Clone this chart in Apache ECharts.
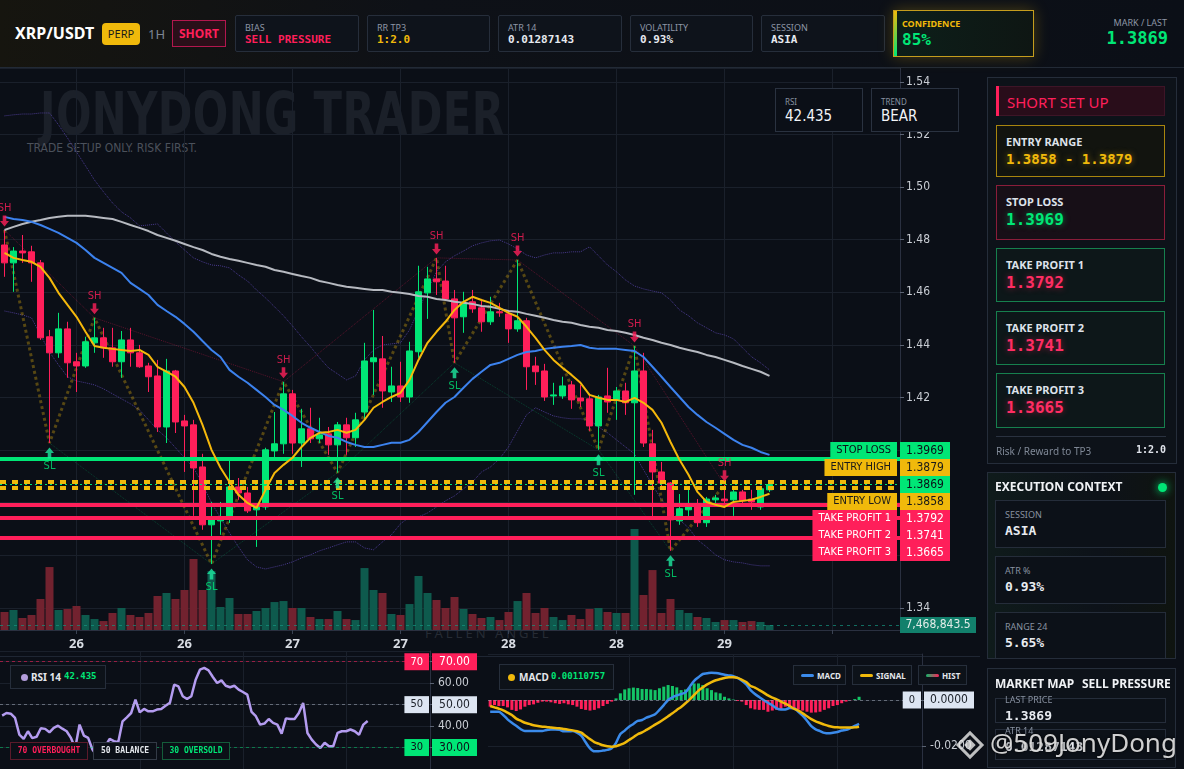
<!DOCTYPE html>
<html><head><meta charset="utf-8">
<script src="https://cdn.jsdelivr.net/npm/echarts@6/dist/echarts.min.js"></script>
<style>
html,body{margin:0;padding:0;width:1184px;height:769px;overflow:hidden;background:#0b0f17;font-family:'Noto Sans','Open Sans',sans-serif;}
.a{position:absolute;box-sizing:border-box;}
#chart{position:absolute;left:0;top:0;width:1184px;height:769px;z-index:2;}
.under{z-index:1;}
.over{z-index:3;}
.mono{font-family:'DejaVu Sans Mono','Liberation Mono',monospace;}
.narrow{font-family:'Liberation Sans Narrow','DejaVu Sans Condensed',Roboto,sans-serif;}
#header{position:absolute;left:0;top:0;width:1184px;height:68px;z-index:3;background:linear-gradient(90deg,#16150f 0%,#0e1117 35%,#0b0f17 100%);border-bottom:1px solid #222a36;box-sizing:border-box;}
.card{position:absolute;top:15px;height:37px;box-sizing:border-box;border:1px solid #262e3b;background:#0e131b;border-radius:2px;}
.card .l{position:absolute;left:9px;top:5px;font-size:9px;color:#8d96a6;}
.card .v{position:absolute;left:9px;top:17px;font-weight:bold;font-size:11px;font-family:'DejaVu Sans Mono',monospace;}
.panel{position:absolute;box-sizing:border-box;border:1px solid #252d3a;background:#0d1219;z-index:3;}
.scard{position:absolute;left:996px;width:169px;box-sizing:border-box;z-index:4;}
.scard .l{position:absolute;left:9px;top:8px;font-weight:bold;font-size:11px;color:#dde2ea;}
.scard .v{position:absolute;left:9px;top:24px;font-weight:bold;font-size:16px;font-family:'DejaVu Sans Mono',monospace;}
.ecard{position:absolute;left:995px;width:171px;box-sizing:border-box;border:1px solid #252d3a;background:#0c1118;z-index:4;}
.ecard .l{position:absolute;left:9px;top:7px;font-size:9px;color:#8891a0;}
.ecard .v{position:absolute;left:9px;top:22px;font-weight:bold;font-size:13px;color:#e8ebf0;font-family:'DejaVu Sans Mono',monospace;}
.leg{position:absolute;box-sizing:border-box;border:1px solid #262e3b;background:#0d1219;z-index:3;font-size:10px;color:#e4e7ec;font-weight:bold;white-space:nowrap;}
.tagb{position:absolute;box-sizing:border-box;height:18px;line-height:16px;font-size:8px;font-weight:bold;padding:0 5px;z-index:3;font-family:'DejaVu Sans Mono',monospace;background:#0b0f17;white-space:nowrap;text-align:center;}
</style></head><body>

<!-- watermarks under the chart canvas -->
<div class="a under narrow" style="left:40px;top:80px;font-size:58px;font-weight:bold;color:#1b2029;letter-spacing:0.5px;white-space:nowrap;transform:scaleX(0.8);transform-origin:0 0;">JONYDONG TRADER</div>
<div class="a under narrow" style="left:27px;top:141px;font-size:12px;color:#4b515b;white-space:nowrap;">TRADE SETUP ONLY. RISK FIRST.</div>
<div class="a under" style="left:425px;top:624px;font-size:13px;color:#262b34;letter-spacing:3px;white-space:nowrap;">FALLEN ANGEL</div>
<div class="a under" style="left:0;top:656px;width:980px;height:1px;background:#1f2633;"></div>

<div id="chart"></div>

<!-- header -->
<div id="header">
  <div class="a" style="left:15px;top:22px;font-size:16px;font-weight:bold;color:#fff;">XRP/USDT</div>
  <div class="a" style="left:102px;top:23px;width:38px;height:22px;line-height:22px;text-align:center;font-size:11px;background:#f0b90b;color:#1a1a1a;border-radius:4px;">PERP</div>
  <div class="a" style="left:148px;top:23px;line-height:22px;font-size:13px;color:#7d8694;">1H</div>
  <div class="a" style="left:172px;top:20px;width:54px;height:27px;line-height:25px;text-align:center;font-size:12px;font-weight:bold;color:#ff1f5a;border:1px solid #b3174e;background:#2a0f19;">SHORT</div>
  <div class="card" style="left:235px;width:124px;"><div class="l">BIAS</div><div class="v" style="color:#ff1f5a;">SELL PRESSURE</div></div>
  <div class="card" style="left:367px;width:123px;"><div class="l">RR TP3</div><div class="v" style="color:#f0b90b;">1:2.0</div></div>
  <div class="card" style="left:498px;width:124px;"><div class="l">ATR 14</div><div class="v" style="color:#e6e9ef;">0.01287143</div></div>
  <div class="card" style="left:630px;width:123px;"><div class="l">VOLATILITY</div><div class="v" style="color:#e6e9ef;">0.93%</div></div>
  <div class="card" style="left:761px;width:124px;"><div class="l">SESSION</div><div class="v" style="color:#e6e9ef;">ASIA</div></div>
  <div class="a" style="left:893px;top:10px;width:141px;height:47px;border:1px solid #c59d1d;background:linear-gradient(90deg,#0d1f1a,#0e1613);box-shadow:0 0 14px rgba(240,185,11,0.28);">
    <div class="a" style="left:0;top:0;width:3px;height:45px;background:linear-gradient(180deg,#f0b90b,#00e676);"></div>
    <div class="a" style="left:8px;top:6px;font-size:9px;font-weight:bold;color:#f0b90b;">CONFIDENCE</div>
    <div class="a mono" style="left:8px;top:19px;font-size:16px;font-weight:bold;color:#00e676;">85%</div>
  </div>
  <div class="a" style="right:17px;top:16px;font-size:9px;color:#8d96a6;text-align:right;">MARK / LAST</div>
  <div class="a mono" style="right:16px;top:28px;font-size:17px;font-weight:bold;color:#00e676;text-align:right;">1.3869</div>
</div>

<!-- RSI / TREND boxes -->
<div class="a over" style="left:775px;top:88px;width:88px;height:44px;border:1px solid #2a3240;background:#0b0f17;">
  <div class="a" style="left:9px;top:7px;font-size:8px;color:#8891a0;">RSI</div>
  <div class="a narrow" style="left:9px;top:18px;font-size:15px;color:#f2f4f7;">42.435</div>
</div>
<div class="a over" style="left:871px;top:88px;width:88px;height:44px;border:1px solid #2a3240;background:#0b0f17;">
  <div class="a" style="left:9px;top:7px;font-size:8px;color:#8891a0;">TREND</div>
  <div class="a narrow" style="left:9px;top:18px;font-size:15px;color:#f2f4f7;">BEAR</div>
</div>

<!-- right panel: setup -->
<div class="panel" style="left:987px;top:77px;width:190px;height:387px;"></div>
<div class="a" style="left:996px;top:86px;width:169px;height:30px;background:#290d1a;border:1px solid #3e1527;z-index:4;">
  <div class="a" style="left:-1px;top:-1px;width:3px;height:30px;background:#ff1f5a;"></div>
  <div class="a" style="left:10px;top:5px;font-size:15px;color:#ff1f5a;">SHORT SET UP</div>
</div>
<div class="scard" style="top:125px;height:52px;border:1px solid #a8850e;background:#12140f;"><div class="l">ENTRY RANGE</div><div class="v" style="font-size:14px;top:25px;color:#f0b90b;text-shadow:0 0 6px rgba(240,185,11,0.5);">1.3858 - 1.3879</div></div>
<div class="scard" style="top:185px;height:55px;border:1px solid #8a1d3a;background:#170f17;"><div class="l">STOP LOSS</div><div class="v" style="color:#00e676;text-shadow:0 0 6px rgba(0,230,118,0.5);">1.3969</div></div>
<div class="scard" style="top:248px;height:54px;border:1px solid #16804e;background:#0d1719;"><div class="l">TAKE PROFIT 1</div><div class="v" style="color:#ff2d63;text-shadow:0 0 6px rgba(255,31,90,0.5);">1.3792</div></div>
<div class="scard" style="top:311px;height:54px;border:1px solid #16804e;background:#0d1719;"><div class="l">TAKE PROFIT 2</div><div class="v" style="color:#ff2d63;text-shadow:0 0 6px rgba(255,31,90,0.5);">1.3741</div></div>
<div class="scard" style="top:373px;height:55px;border:1px solid #16804e;background:#0d1719;"><div class="l">TAKE PROFIT 3</div><div class="v" style="color:#ff2d63;text-shadow:0 0 6px rgba(255,31,90,0.5);">1.3665</div></div>
<div class="a" style="left:996px;top:436px;width:170px;height:1px;background:#2a3240;z-index:4;"></div>
<div class="a" style="left:996px;top:444px;font-size:10px;color:#7f8896;z-index:4;">Risk / Reward to TP3</div>
<div class="a mono" style="left:1120px;top:444px;width:46px;text-align:right;font-size:10px;font-weight:bold;color:#dfe3ea;z-index:4;">1:2.0</div>

<!-- execution context -->
<div class="panel" style="left:987px;top:472px;width:189px;height:187px;background:linear-gradient(90deg,#0f1b1b,#0d1219 60%,#0f1410);"></div>
<div class="a" style="left:995px;top:478px;font-size:12px;font-weight:bold;color:#f0f2f5;z-index:4;">EXECUTION CONTEXT</div>
<div class="a" style="left:1158px;top:483px;width:9px;height:9px;border-radius:50%;background:#00e676;box-shadow:0 0 8px #00e676;z-index:4;"></div>
<div class="ecard" style="top:500px;height:48px;"><div class="l">SESSION</div><div class="v">ASIA</div></div>
<div class="ecard" style="top:556px;height:48px;"><div class="l">ATR %</div><div class="v">0.93%</div></div>
<div class="ecard" style="top:612px;height:47px;"><div class="l">RANGE 24</div><div class="v">5.65%</div></div>

<!-- market map -->
<div class="panel" style="left:987px;top:668px;width:189px;height:100px;"></div>
<div class="a" style="left:995px;top:675px;font-size:12px;font-weight:bold;color:#f0f2f5;z-index:4;">MARKET MAP</div>
<div class="a" style="left:1082px;top:675px;font-size:12px;font-weight:bold;color:#f0f2f5;z-index:4;">SELL PRESSURE</div>
<div class="ecard" style="top:698px;height:25px;"><div class="l" style="top:-6px;">LAST PRICE</div><div class="v" style="top:9px;">1.3869</div></div>
<div class="ecard" style="top:729px;height:31px;"><div class="l" style="top:-6px;">ATR 14</div><div class="v" style="top:9px;">0.01287143</div></div>

<!-- RSI legends -->
<div class="leg" style="left:10px;top:665px;width:96px;height:24px;">
  <div class="a" style="left:10px;top:8px;width:7px;height:7px;border-radius:50%;background:#b39ddb;"></div>
  <div class="a" style="left:20px;top:4px;">RSI 14</div>
  <div class="a mono" style="left:53px;top:5px;color:#00e676;font-size:9px;">42.435</div>
</div>
<div class="tagb" style="left:10px;top:742px;width:78px;border:1px solid #5a1a2a;color:#ff1f5a;">70 OVERBOUGHT</div>
<div class="tagb" style="left:93px;top:742px;width:64px;border:1px solid #333a46;color:#e4e7ec;">50 BALANCE</div>
<div class="tagb" style="left:162px;top:742px;width:68px;border:1px solid #145c3a;color:#00e676;">30 OVERSOLD</div>

<!-- MACD legends -->
<div class="leg" style="left:499px;top:664px;width:115px;height:26px;">
  <div class="a" style="left:8px;top:9px;width:7px;height:7px;border-radius:50%;background:#f0b90b;"></div>
  <div class="a" style="left:19px;top:5px;">MACD</div>
  <div class="a mono" style="left:51px;top:6px;color:#00e676;font-size:9px;">0.00110757</div>
</div>
<div class="leg" style="left:793px;top:665px;width:53px;height:20px;font-size:8px;">
  <div class="a" style="left:7px;top:8px;width:13px;height:3px;border-radius:2px;background:#3b8beb;"></div>
  <div class="a" style="left:23px;top:4px;">MACD</div>
</div>
<div class="leg" style="left:852px;top:665px;width:60px;height:20px;font-size:8px;">
  <div class="a" style="left:7px;top:8px;width:13px;height:3px;border-radius:2px;background:#f0b90b;"></div>
  <div class="a" style="left:23px;top:4px;">SIGNAL</div>
</div>
<div class="leg" style="left:918px;top:665px;width:49px;height:20px;font-size:8px;">
  <div class="a" style="left:7px;top:8px;width:13px;height:3px;border-radius:2px;background:linear-gradient(90deg,#12b76a,#ff1f5a);"></div>
  <div class="a" style="left:23px;top:4px;">HIST</div>
</div>

<!-- signature watermark -->
<div class="a" style="left:960px;top:735px;width:20px;height:20px;border:3px solid rgba(235,235,235,0.8);transform:rotate(45deg);z-index:5;"></div>
<div class="a" style="left:966px;top:741px;width:8px;height:8px;background:rgba(235,235,235,0.8);transform:rotate(45deg);z-index:5;"></div>
<div class="a" style="left:990px;top:724px;font-size:26px;color:rgba(236,236,236,0.88);text-shadow:0 0 3px #000;z-index:5;white-space:nowrap;">@509JonyDong</div>

<script>
// ---------------- DATA ----------------
const firstCandleTime = { day: 25, hour: 16 };
const slotCount = 100; // 86 hourly candles + empty right margin
const categories = [];
for (let k = 0; k < slotCount; k++) {
  const h = firstCandleTime.hour + k;
  categories.push((firstCandleTime.day + Math.floor(h / 24)) + ' ' + String(h % 24).padStart(2, '0') + ':00');
}

// [open, close, low, high]
const candles = [
[1.4780,1.4712,1.4659,1.4837],[1.4712,1.4757,1.4602,1.4772],[1.4757,1.4750,1.4712,1.4818],[1.4754,1.4712,1.4640,1.4777],
[1.4712,1.4427,1.4419,1.4723],[1.4431,1.4370,1.4027,1.4457],[1.4370,1.4461,1.4351,1.4522],[1.4461,1.4332,1.4275,1.4488],
[1.4336,1.4320,1.4221,1.4370],[1.4320,1.4412,1.4313,1.4431],[1.4408,1.4427,1.4370,1.4503],[1.4427,1.4389,1.4351,1.4465],
[1.4389,1.4336,1.4317,1.4465],[1.4336,1.4419,1.4275,1.4453],[1.4419,1.4370,1.4317,1.4465],[1.4370,1.4317,1.4313,1.4400],
[1.4320,1.4279,1.4221,1.4332],[1.4282,1.4088,1.4069,1.4343],[1.4088,1.4301,1.4027,1.4347],[1.4301,1.4107,1.4065,1.4305],
[1.4111,1.4092,1.3917,1.4134],[1.4096,1.3932,1.3750,1.4115],[1.3936,1.3716,1.3697,1.3986],[1.3716,1.3735,1.3567,1.3803],
[1.3731,1.3742,1.3678,1.3803],[1.3739,1.3860,1.3723,1.3959],[1.3860,1.3837,1.3811,1.3894],[1.3837,1.3769,1.3761,1.3860],
[1.3773,1.3792,1.3632,1.3795],[1.3784,1.4001,1.3773,1.4009],[1.3997,1.4024,1.3974,1.4145],[1.4024,1.4214,1.3986,1.4260],
[1.4214,1.4027,1.3986,1.4229],[1.4027,1.4081,1.3936,1.4157],[1.4081,1.4043,1.4027,1.4161],[1.4043,1.4058,1.4027,1.4123],
[1.4062,1.4020,1.3982,1.4088],[1.4020,1.4096,1.3914,1.4107],[1.4096,1.4047,1.3982,1.4123],[1.4047,1.4115,1.4012,1.4142],
[1.4145,1.4339,1.4115,1.4408],[1.4336,1.4351,1.4210,1.4533],[1.4347,1.4225,1.4161,1.4434],[1.4221,1.4244,1.4183,1.4317],
[1.4244,1.4202,1.4183,1.4336],[1.4202,1.4377,1.4180,1.4412],[1.4374,1.4602,1.4351,1.4701],[1.4598,1.4651,1.4499,1.4697],
[1.4651,1.4640,1.4590,1.4731],[1.4643,1.4575,1.4567,1.4701],[1.4575,1.4503,1.4332,1.4609],[1.4507,1.4560,1.4446,1.4602],
[1.4564,1.4537,1.4522,1.4609],[1.4541,1.4488,1.4450,1.4575],[1.4488,1.4526,1.4476,1.4583],[1.4526,1.4522,1.4507,1.4560],
[1.4518,1.4461,1.4408,1.4533],[1.4461,1.4492,1.4450,1.4723],[1.4492,1.4317,1.4229,1.4503],[1.4320,1.4298,1.4248,1.4355],
[1.4301,1.4202,1.4187,1.4328],[1.4206,1.4210,1.4172,1.4256],[1.4206,1.4244,1.4195,1.4279],[1.4248,1.4191,1.4157,1.4263],
[1.4198,1.4187,1.4164,1.4248],[1.4195,1.4092,1.4073,1.4210],[1.4092,1.4202,1.4001,1.4210],[1.4206,1.4183,1.4142,1.4313],
[1.4191,1.4225,1.4115,1.4240],[1.4225,1.4180,1.4134,1.4256],[1.4180,1.4301,1.3830,1.4396],[1.4301,1.4027,1.4012,1.4370],
[1.4024,1.3917,1.3739,1.4077],[1.3917,1.3875,1.3849,1.3955],[1.3875,1.3735,1.3617,1.3879],[1.3731,1.3777,1.3716,1.3833],
[1.3773,1.3796,1.3742,1.3860],[1.3796,1.3724,1.3708,1.3814],[1.3724,1.3814,1.3708,1.3822],[1.3811,1.3818,1.3792,1.3830],
[1.3814,1.3807,1.3792,1.3868],[1.3811,1.3841,1.3750,1.3864],[1.3841,1.3807,1.3792,1.3849],[1.3814,1.3803,1.3773,1.3849],
[1.3784,1.3853,1.3773,1.3864],[1.3849,1.3869,1.3841,1.3879]
];

// volume in millions
const volumeM = [
26.9,29.9,17.9,22.4,46.3,94.1,29.9,31.4,35.9,22.4,16.4,13.4,25.4,32.9,22.4,19.4,25.4,50.8,55.3,46.3,
59.8,106.1,59.8,88.1,34.4,47.8,23.9,23.9,28.4,32.9,41.8,43.3,32.9,32.9,19.4,16.4,16.4,28.4,16.4,14.9,
92.6,59.8,55.3,23.9,22.4,38.8,80.7,55.3,44.8,32.9,49.3,31.4,23.9,17.9,19.4,14.9,26.9,43.3,55.3,25.4,
32.9,19.4,14.9,22.4,16.4,31.4,32.9,26.9,25.4,25.4,150.9,52.3,89.6,25.4,46.3,29.9,25.4,19.4,17.9,12.0,
14.9,14.9,12.0,13.4,12.0,7.4688435
];

const emaFast = [
1.4750,1.4731,1.4723,1.4716,1.4697,1.4655,1.4598,1.4552,1.4507,1.4450,1.4396,1.4389,1.4385,1.4381,1.4377,1.4381,1.4362,1.4317,1.4298,1.4279,
1.4240,1.4180,1.4096,1.4001,1.3933,1.3879,1.3830,1.3799,1.3780,1.3849,1.3913,1.3944,1.3971,1.4012,1.4047,1.4066,1.4069,1.4077,1.4066,1.4077,
1.4115,1.4161,1.4183,1.4202,1.4218,1.4267,1.4343,1.4408,1.4450,1.4488,1.4533,1.4564,1.4583,1.4571,1.4560,1.4541,1.4522,1.4507,1.4469,1.4427,
1.4381,1.4343,1.4313,1.4286,1.4256,1.4210,1.4199,1.4191,1.4191,1.4183,1.4199,1.4180,1.4153,1.4104,1.4031,1.3963,1.3906,1.3841,1.3803,1.3792,
1.3784,1.3803,1.3807,1.3811,1.3822,1.3834
];
const emaMid = [
1.4887,1.4879,1.4875,1.4868,1.4856,1.4841,1.4826,1.4807,1.4788,1.4761,1.4731,1.4712,1.4693,1.4674,1.4636,1.4613,1.4590,1.4552,1.4529,1.4507,
1.4480,1.4450,1.4415,1.4381,1.4354,1.4305,1.4279,1.4256,1.4229,1.4202,1.4172,1.4153,1.4130,1.4104,1.4085,1.4069,1.4054,1.4047,1.4031,1.4020,
1.4012,1.4012,1.4020,1.4028,1.4028,1.4039,1.4069,1.4107,1.4145,1.4180,1.4202,1.4237,1.4271,1.4298,1.4324,1.4332,1.4347,1.4362,1.4373,1.4377,
1.4385,1.4389,1.4393,1.4396,1.4400,1.4389,1.4385,1.4385,1.4385,1.4381,1.4377,1.4354,1.4317,1.4279,1.4240,1.4202,1.4164,1.4134,1.4107,1.4085,
1.4062,1.4039,1.4020,1.4009,1.3993,1.3982
];
const emaSlow = [
1.4837,1.4849,1.4860,1.4868,1.4875,1.4883,1.4887,1.4891,1.4891,1.4891,1.4887,1.4883,1.4879,1.4868,1.4856,1.4845,1.4833,1.4818,1.4807,1.4796,
1.4784,1.4772,1.4761,1.4746,1.4735,1.4727,1.4720,1.4712,1.4704,1.4697,1.4685,1.4678,1.4670,1.4662,1.4655,1.4643,1.4636,1.4628,1.4621,1.4617,
1.4613,1.4609,1.4609,1.4602,1.4598,1.4594,1.4586,1.4583,1.4575,1.4571,1.4564,1.4560,1.4556,1.4548,1.4545,1.4537,1.4529,1.4526,1.4518,1.4511,
1.4503,1.4495,1.4488,1.4484,1.4476,1.4469,1.4465,1.4457,1.4453,1.4446,1.4438,1.4427,1.4419,1.4408,1.4400,1.4389,1.4381,1.4373,1.4362,1.4354,
1.4343,1.4332,1.4320,1.4309,1.4298,1.4282
];
const bandUpper = [
1.5271,1.5275,1.5278,1.5278,1.5282,1.5282,1.5237,1.5187,1.5134,1.5081,1.5027,1.4982,1.4940,1.4906,1.4883,1.4853,1.4856,1.4860,1.4826,1.4792,
1.4761,1.4731,1.4716,1.4704,1.4701,1.4693,1.4666,1.4643,1.4609,1.4579,1.4545,1.4511,1.4472,1.4431,1.4393,1.4351,1.4313,1.4290,1.4267,1.4282,
1.4343,1.4381,1.4400,1.4404,1.4408,1.4457,1.4533,1.4609,1.4678,1.4716,1.4739,1.4757,1.4777,1.4788,1.4796,1.4799,1.4784,1.4765,1.4742,1.4731,
1.4742,1.4750,1.4750,1.4754,1.4754,1.4773,1.4739,1.4704,1.4678,1.4647,1.4624,1.4613,1.4605,1.4598,1.4571,1.4533,1.4511,1.4484,1.4465,1.4446,
1.4438,1.4423,1.4389,1.4355,1.4332,1.4305
];
const bandLower = [
1.4529,1.4522,1.4514,1.4503,1.4438,1.4373,1.4324,1.4279,1.4263,1.4256,1.4248,1.4233,1.4214,1.4195,1.4176,1.4153,1.4115,1.4077,1.4047,1.4009,
1.3971,1.3933,1.3872,1.3800,1.3742,1.3685,1.3632,1.3583,1.3556,1.3548,1.3556,1.3564,1.3575,1.3590,1.3602,1.3617,1.3628,1.3640,1.3651,1.3651,
1.3628,1.3621,1.3651,1.3678,1.3720,1.3746,1.3746,1.3761,1.3784,1.3807,1.3826,1.3853,1.3879,1.3917,1.3936,1.3967,1.4012,1.4073,1.4134,1.4161,
1.4145,1.4130,1.4123,1.4119,1.4119,1.4115,1.4088,1.4066,1.4039,1.4012,1.3986,1.3925,1.3868,1.3811,1.3773,1.3735,1.3705,1.3659,1.3632,1.3602,
1.3583,1.3575,1.3571,1.3564,1.3560,1.3560
];

const swingHighIdx = [0, 10, 31, 48, 57, 70, 80];
const swingLowIdx = [5, 23, 37, 50, 66, 74];

const levels = {
  stopLoss: 1.3969, entryHigh: 1.3879, last: 1.3869, entryLow: 1.3858,
  tp1: 1.3792, tp2: 1.3741, tp3: 1.3665
};

const rsi = [
44.9,46.1,45.8,43.8,36.0,34.0,37.6,34.4,35.0,39.0,38.7,37.1,39.2,40.2,38.8,37.6,34.5,29.8,40.7,35.6,
34.5,29.1,26.3,26.6,30.6,34.0,33.0,32.5,42.2,44.1,46.1,52.3,46.4,48.0,46.9,46.9,47.7,48.0,49.5,50.8,
59.3,58.5,53.9,52.6,53.9,61.6,66.3,67.1,66.0,62.9,60.1,61.3,58.8,58.1,58.8,57.0,55.9,54.7,46.6,44.6,
40.7,41.2,43.3,41.5,40.7,36.5,43.6,43.3,43.3,46.1,50.8,36.8,33.7,31.4,29.8,32.2,30.6,30.6,36.8,37.6,
37.6,38.4,37.6,36.0,40.7,42.4
];
const rsiLevels = [70, 50, 30];

const macdLine = [
-0.0051,-0.0051,-0.0051,-0.0065,-0.0084,-0.0099,-0.0112,-0.0126,-0.0135,-0.0135,-0.0135,-0.0135,-0.0135,-0.0130,-0.0128,-0.0128,-0.0130,-0.0136,-0.0136,-0.0135,
-0.0142,-0.0155,-0.0184,-0.0210,-0.0223,-0.0223,-0.0220,-0.0217,-0.0210,-0.0186,-0.0148,-0.0133,-0.0116,-0.0104,-0.0091,-0.0087,-0.0077,-0.0070,-0.0062,-0.0043,
-0.0022,0.0000,0.0012,0.0020,0.0026,0.0033,0.0058,0.0083,0.0099,0.0113,0.0116,0.0119,0.0117,0.0114,0.0110,0.0107,0.0104,0.0096,0.0084,0.0068,
0.0043,0.0026,0.0013,0.0000,-0.0012,-0.0023,-0.0036,-0.0041,-0.0041,-0.0035,-0.0036,-0.0051,-0.0068,-0.0090,-0.0114,-0.0128,-0.0135,-0.0143,-0.0145,-0.0142,
-0.0139,-0.0133,-0.0130,-0.0122,-0.0113,-0.0104
];
const signalLine = [
-0.0026,-0.0032,-0.0038,-0.0045,-0.0055,-0.0065,-0.0081,-0.0090,-0.0099,-0.0104,-0.0110,-0.0113,-0.0116,-0.0117,-0.0120,-0.0122,-0.0123,-0.0126,-0.0129,-0.0132,
-0.0136,-0.0142,-0.0157,-0.0170,-0.0183,-0.0190,-0.0197,-0.0201,-0.0203,-0.0201,-0.0194,-0.0186,-0.0174,-0.0162,-0.0149,-0.0141,-0.0130,-0.0119,-0.0107,-0.0096,
-0.0084,-0.0071,-0.0058,-0.0043,-0.0030,-0.0014,0.0003,0.0022,0.0041,0.0055,0.0068,0.0078,0.0086,0.0091,0.0096,0.0099,0.0099,0.0096,0.0088,0.0078,
0.0061,0.0054,0.0043,0.0032,0.0020,0.0010,0.0003,-0.0007,-0.0016,-0.0026,-0.0038,-0.0046,-0.0058,-0.0071,-0.0083,-0.0093,-0.0100,-0.0107,-0.0113,-0.0117,
-0.0119,-0.0120,-0.0120,-0.0120,-0.0119,-0.0116
];
const macdHist = [
-0.0029,-0.0022,-0.0026,-0.0026,-0.0032,-0.0043,-0.0048,-0.0041,-0.0029,-0.0022,-0.0019,-0.0012,-0.0007,-0.0007,-0.0010,-0.0014,-0.0017,-0.0014,-0.0019,-0.0022,
-0.0029,-0.0039,-0.0043,-0.0046,-0.0043,-0.0036,-0.0026,-0.0017,-0.0007,0.0007,0.0029,0.0046,0.0051,0.0054,0.0052,0.0048,0.0048,0.0046,0.0043,0.0051,
0.0058,0.0065,0.0061,0.0055,0.0043,0.0046,0.0055,0.0072,0.0072,0.0065,0.0051,0.0043,0.0033,0.0029,0.0014,0.0007,0.0002,-0.0004,-0.0007,-0.0022,
-0.0036,-0.0041,-0.0043,-0.0043,-0.0051,-0.0046,-0.0043,-0.0041,-0.0029,-0.0032,-0.0036,-0.0041,-0.0046,-0.0051,-0.0055,-0.0054,-0.0051,-0.0043,-0.0036,-0.0026,
-0.0022,-0.0014,-0.0007,-0.0001,0.0004,0.0014
];

// ---------------- STYLE ----------------
const GREEN = '#00e676', RED = '#ff1f5a', YELLOW = '#f0b90b';
const FONT_C = "'Liberation Sans Narrow','DejaVu Sans Condensed',Roboto,sans-serif";
const GRIDC = '#1a202b';
const priceView = { min: 1.3316, max: 1.5453 };

const isDayTick = (i) => /(00|12):00$/.test(categories[i]);
const isSubTick = (i) => /00:00$/.test(categories[i]) && i > 8 && i < candles.length;

const chart = echarts.init(document.getElementById('chart'), null, { renderer: 'canvas' });

const pts = (idx, k) => idx.map(i => [i, candles[i][k]]);
const zigzag = swingHighIdx.map(i => [i, candles[i][3]]).concat(swingLowIdx.map(i => [i, candles[i][2]])).sort((a, b) => a[0] - b[0]);

const arrowDown = 'path://M3,0 L7,0 L7,5 L10,5 L5,10 L0,5 L3,5 Z';
const arrowUp = 'path://M5,0 L10,5 L7,5 L7,10 L3,10 L3,5 L0,5 Z';

const subAxis = (g) => ({
  type: 'category', gridIndex: g, data: categories, boundaryGap: true,
  axisLine: { show: false }, axisTick: { show: false }, axisLabel: { show: false },
  splitLine: { show: true, interval: isSubTick, alignWithLabel: true, lineStyle: { color: GRIDC } }
});

const levelLines = [
  { yAxis: levels.stopLoss, lineStyle: { color: GREEN, width: 4, type: 'solid' } },
  { yAxis: levels.entryHigh, lineStyle: { color: YELLOW, width: 4, type: [6, 6] } },
  { yAxis: levels.entryLow, lineStyle: { color: YELLOW, width: 4, type: [6, 6] } },
  { yAxis: levels.last, lineStyle: { color: GREEN, width: 1, type: [2, 3] } },
  { yAxis: levels.tp1, lineStyle: { color: RED, width: 4, type: 'solid' } },
  { yAxis: levels.tp2, lineStyle: { color: RED, width: 4, type: 'solid' } },
  { yAxis: levels.tp3, lineStyle: { color: RED, width: 4, type: 'solid' } }
];

const option = {
  animation: false,
  backgroundColor: 'transparent',
  textStyle: { fontFamily: FONT_C },
  grid: [
    { left: 0, top: 68, width: 900, height: 562 },
    { left: 0, top: 651, width: 430, height: 118 },
    { left: 488, top: 654, width: 434, height: 115 }
  ],
  xAxis: [
    {
      type: 'category', gridIndex: 0, data: categories, boundaryGap: true,
      axisLine: { lineStyle: { color: '#2a3040' } },
      axisTick: { show: true, interval: isDayTick, alignWithLabel: true, length: 4, lineStyle: { color: '#3a4252' } },
      axisLabel: { interval: isDayTick, color: '#d8dce3', fontSize: 13, fontWeight: 'bold', fontFamily: "'Noto Sans',sans-serif", margin: 8,
        formatter: (v, i) => i < candles.length ? v.split(' ')[0] : '' },
      splitLine: { show: true, interval: isDayTick, alignWithLabel: true, lineStyle: { color: GRIDC } }
    },
    subAxis(1), subAxis(2)
  ],
  yAxis: [
    { type: 'value', gridIndex: 0, position: 'right', min: priceView.min, max: priceView.max, splitNumber: 10,
      axisLine: { show: true, lineStyle: { color: '#2a3040' } },
      axisTick: { show: true, length: 4, lineStyle: { color: '#5a6272' } },
      axisLabel: { color: '#c9cdd4', fontSize: 12, margin: 6, showMinLabel: false, showMaxLabel: false, formatter: v => v.toFixed(2) },
      splitLine: { lineStyle: { color: GRIDC } } },
    { type: 'value', gridIndex: 0, min: 0, max: 840, show: false, splitLine: { show: false } },
    { type: 'value', gridIndex: 1, position: 'right', min: 20, max: 75, interval: 10,
      axisLine: { show: true, lineStyle: { color: '#2a3040' } },
      axisTick: { show: true, length: 4, lineStyle: { color: '#5a6272' } },
      axisLabel: { color: '#c9cdd4', fontSize: 12, margin: 8, showMinLabel: false, showMaxLabel: false, formatter: v => v.toFixed(2) },
      splitLine: { lineStyle: { color: GRIDC } } },
    { type: 'value', gridIndex: 2, position: 'right', min: -0.03, max: 0.02, splitNumber: 3,
      axisLine: { show: true, lineStyle: { color: '#2a3040' } },
      axisTick: { show: true, length: 4, lineStyle: { color: '#5a6272' } },
      axisLabel: { color: '#c9cdd4', fontSize: 12, margin: 8, showMinLabel: false, showMaxLabel: false, formatter: v => v.toFixed(4) },
      splitLine: { lineStyle: { color: GRIDC } } }
  ],
  series: [
    { name: 'Upper', type: 'line', data: bandUpper, symbol: 'none', silent: true, z: 1,
      lineStyle: { color: '#4a3b8f', width: 1, type: 'dotted' } },
    { name: 'Lower', type: 'line', data: bandLower, symbol: 'none', silent: true, z: 1,
      lineStyle: { color: '#4a3b8f', width: 1, type: 'dotted' } },
    { name: 'HighTrend', type: 'line', data: pts(swingHighIdx, 3), symbol: 'none', silent: true, z: 1,
      lineStyle: { color: 'rgba(255,31,90,0.32)', width: 1, type: 'dotted' } },
    { name: 'LowTrend', type: 'line', data: pts(swingLowIdx, 2), symbol: 'none', silent: true, z: 1,
      lineStyle: { color: 'rgba(0,200,120,0.28)', width: 1, type: 'dotted' } },
    { name: 'ZigZag', type: 'line', data: zigzag, symbol: 'none', silent: true, z: 1,
      lineStyle: { color: 'rgba(240,185,11,0.33)', width: 3, type: 'dotted' } },
    { name: 'Volume', type: 'bar', yAxisIndex: 1, barWidth: 8, silent: true, z: 2,
      data: volumeM.map((v, i) => ({ value: v, itemStyle: { color: candles[i][1] >= candles[i][0] ? '#0e5a4d' : '#72222f' } })),
      markLine: { symbol: ['none', 'none'], silent: true, precision: 6, label: { show: false },
        lineStyle: { color: 'rgba(20,150,128,0.7)', type: [3, 4], width: 1 },
        data: [{ yAxis: volumeM[volumeM.length - 1] }] } },
    { name: 'XRP', type: 'candlestick', data: candles, barWidth: 7, z: 4,
      itemStyle: { color: GREEN, color0: RED, borderColor: GREEN, borderColor0: RED, borderWidth: 1 } },
    { name: 'Levels', type: 'line', data: [], silent: true, z: 5,
      markLine: { symbol: ['none', 'none'], silent: true, precision: 4, label: { show: false }, z: 5, data: levelLines } },
    { name: 'EMA200', type: 'line', data: emaSlow, symbol: 'none', silent: true, z: 6,
      lineStyle: { color: '#b7bac1', width: 2 } },
    { name: 'EMA50', type: 'line', data: emaMid, symbol: 'none', silent: true, z: 6,
      lineStyle: { color: '#3c82ee', width: 2 } },
    { name: 'EMA9', type: 'line', data: emaFast, symbol: 'none', silent: true, z: 6,
      lineStyle: { color: '#f5b80b', width: 2 } },
    { name: 'SH', type: 'scatter', data: pts(swingHighIdx, 3), symbol: arrowDown, symbolSize: [9, 11], symbolOffset: [0, -9], z: 7, silent: true,
      itemStyle: { color: RED },
      label: { show: true, formatter: 'SH', position: 'top', distance: 2, color: RED, fontSize: 11, fontFamily: FONT_C } },
    { name: 'SL', type: 'scatter', data: pts(swingLowIdx, 2), symbol: arrowUp, symbolSize: [9, 11], symbolOffset: [0, 10], z: 7, silent: true,
      itemStyle: { color: '#1de9a0' },
      label: { show: true, formatter: 'SL', position: 'bottom', distance: 2, color: GREEN, fontSize: 11, fontFamily: FONT_C } },
    { name: 'RSI', type: 'line', xAxisIndex: 1, yAxisIndex: 2, data: rsi, symbol: 'none', silent: true,
      lineStyle: { color: '#b49cf0', width: 2.5 },
      markLine: { symbol: ['none', 'none'], silent: true, label: { show: false },
        data: [
          { yAxis: rsiLevels[0], lineStyle: { color: 'rgba(255,31,90,0.55)', type: [3, 3], width: 1 } },
          { yAxis: rsiLevels[1], lineStyle: { color: 'rgba(150,158,172,0.6)', type: [3, 3], width: 1 } },
          { yAxis: rsiLevels[2], lineStyle: { color: 'rgba(0,230,118,0.45)', type: [3, 3], width: 1 } }
        ] } },
    { name: 'HIST', type: 'bar', xAxisIndex: 2, yAxisIndex: 3, barWidth: 3, silent: true,
      data: macdHist.map(v => ({ value: v, itemStyle: { color: v >= 0 ? '#14c466' : RED } })),
      markLine: { symbol: ['none', 'none'], silent: true, label: { show: false },
        lineStyle: { color: 'rgba(150,158,172,0.6)', type: [3, 3], width: 1 }, data: [{ yAxis: 0 }] } },
    { name: 'MACD', type: 'line', xAxisIndex: 2, yAxisIndex: 3, data: macdLine, symbol: 'none', silent: true, smooth: 0.3,
      lineStyle: { color: '#3b8beb', width: 2.5 } },
    { name: 'SIGNAL', type: 'line', xAxisIndex: 2, yAxisIndex: 3, data: signalLine, symbol: 'none', silent: true, smooth: 0.3,
      lineStyle: { color: YELLOW, width: 2.5 } }
  ]
};
chart.setOption(option);

// --------- axis tags (positions resolved through the axes) ---------
function pairTag(out, axisX, y, name, price, bg, fg, boxW) {
  if (name) {
    out.push({ type: 'text', x: axisX - 3, y: y, z: 100,
      style: { text: name, font: '11px ' + FONT_C, fill: fg, backgroundColor: bg, padding: [3, 6, 2, 6], lineHeight: 12, align: 'right', verticalAlign: 'middle' } });
  }
  out.push({ type: 'rect', z: 100, shape: { x: axisX, y: y - 8.5, width: boxW, height: 17 }, style: { fill: bg } });
  out.push({ type: 'text', z: 101, x: axisX + boxW / 2, y: y,
    style: { text: price, font: '12px ' + FONT_C, fill: fg, align: 'center', verticalAlign: 'middle' } });
}
const g = [];
const axisX = 900;
const tags = [
  { name: 'STOP LOSS', v: levels.stopLoss, bg: GREEN, fg: '#0b0f17' },
  { name: 'ENTRY HIGH', v: levels.entryHigh, bg: YELLOW, fg: '#1a1a1a' },
  { name: '', v: levels.last, bg: GREEN, fg: '#0b0f17', anchor: true },
  { name: 'ENTRY LOW', v: levels.entryLow, bg: YELLOW, fg: '#1a1a1a' },
  { name: 'TAKE PROFIT 1', v: levels.tp1, bg: RED, fg: '#ffffff' },
  { name: 'TAKE PROFIT 2', v: levels.tp2, bg: RED, fg: '#ffffff' },
  { name: 'TAKE PROFIT 3', v: levels.tp3, bg: RED, fg: '#ffffff' }
];
tags.forEach(t => t.y = chart.convertToPixel({ yAxisIndex: 0 }, t.v));
const ai = tags.findIndex(t => t.anchor);
for (let k = ai - 1; k >= 0; k--) tags[k].y = Math.min(tags[k].y, tags[k + 1].y - 17);
for (let k = ai + 1; k < tags.length; k++) tags[k].y = Math.max(tags[k].y, tags[k - 1].y + 17);
tags.forEach(t => pairTag(g, axisX, t.y, t.name, t.v.toFixed(4), t.bg, t.fg, 50));

const lastVol = volumeM[volumeM.length - 1] * 1e6;
const vy = chart.convertToPixel({ yAxisIndex: 1 }, volumeM[volumeM.length - 1]);
g.push({ type: 'rect', z: 100, shape: { x: axisX, y: vy - 8, width: 76, height: 16 }, style: { fill: '#12806c' } });
g.push({ type: 'text', z: 101, x: axisX + 38, y: vy, style: { text: lastVol.toLocaleString('en-US', { minimumFractionDigits: 1 }), font: '12px ' + FONT_C, fill: '#e3ece9', align: 'center', verticalAlign: 'middle' } });

const rsiAxisX = 430;
const rsiColors = [[RED, '#ffffff'], ['#dde5f2', '#1a1f27'], [GREEN, '#0b0f17']];
rsiLevels.forEach((lv, k) => {
  const y = chart.convertToPixel({ yAxisIndex: 2 }, lv);
  pairTag(g, rsiAxisX + 2, y, String(lv), lv.toFixed(2), rsiColors[k][0], rsiColors[k][1], 45);
});
const macdAxisX = 922;
const y0 = chart.convertToPixel({ yAxisIndex: 3 }, 0);
pairTag(g, macdAxisX + 2, y0, '0', (0).toFixed(4), '#dde5f2', '#1a1f27', 50);

chart.setOption({ graphic: g });
</script>
</body></html>
